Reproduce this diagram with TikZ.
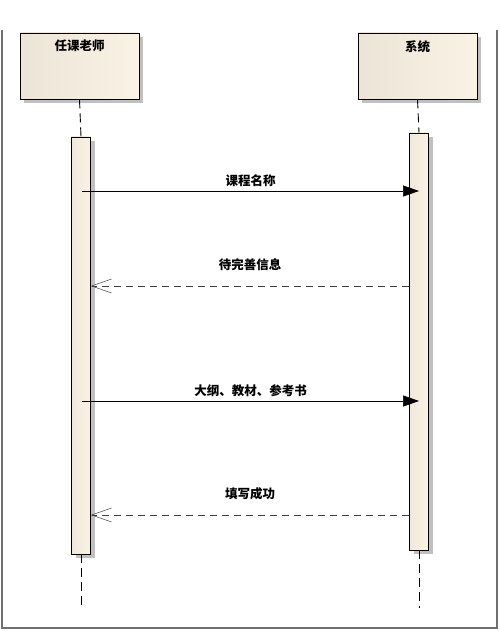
\documentclass[tikz,border=0pt]{standalone}
\usepackage{fontspec}
\newfontfamily\cjk{Noto Sans CJK SC}
\usetikzlibrary{positioning,arrows.meta,shadows}
\definecolor{SeqFrame}{RGB}{112,112,112}
\definecolor{SeqLeft}{RGB}{236,228,214}
\definecolor{SeqRight}{RGB}{250,242,228}
\definecolor{SeqShadow}{RGB}{192,192,192}
\tikzset{
  seq actor/.style={
    draw=black,
    line width=0.6pt,
    left color=SeqLeft,
    right color=SeqRight,
    minimum width=119pt,
    minimum height=66pt,
    inner sep=0pt,
    drop shadow={shadow xshift=4pt, shadow yshift=-4pt, fill=SeqShadow, opacity=1}
  },
  seq bar/.style={
    draw=black,
    line width=0.6pt,
    left color=SeqLeft!70!SeqRight,
    right color=SeqRight,
    minimum width=19pt,
    inner sep=0pt,
    drop shadow={shadow xshift=4pt, shadow yshift=-4pt, fill=SeqShadow, opacity=1}
  },
  seq title/.style={font=\cjk\bfseries\fontsize{12.5}{14}\selectfont, text=black},
  seq life/.style={dash pattern=on 9pt off 5pt, line width=0.9pt},
  seq call/.style={-{Triangle[length=16pt,width=11pt]}, line width=0.7pt},
  seq reply/.style={-{Straight Barb[length=20pt,width=14pt,line width=0.5pt]}, dash pattern=on 7pt off 5pt, line width=0.7pt, black!75},
  seq label/.style={font=\cjk\bfseries\fontsize{12.5}{14}\selectfont, text=black, anchor=south}
}
\begin{document}
\begin{tikzpicture}[x=1pt,y=-1pt]
\useasboundingbox (0,0) rectangle (499,631);
% frame
\draw[SeqFrame, line width=1.4pt] (2,30) -- (2,628) -- (497,628) -- (497,30);
% actors
\node[seq actor] (teacher) at (79.5,66) {};
\node[seq title, below=4pt of teacher.north] {任课老师};
\node[seq actor] (system) at (417.5,66) {};
\node[seq title, below=4pt of system.north] {系统};
% activations
\node[seq bar, minimum height=417pt] (tbar) at (81,345.5) {};
\node[seq bar, minimum height=417pt] (sbar) at (419,341.5) {};
\coordinate (tend) at (81,608);
\coordinate (send) at (419,608);
\draw[seq life] (teacher.south) -- (tbar.north);
\draw[seq life] (system.south) -- (sbar.north);
\draw[seq life] (tbar.south) -- (tend);
\draw[seq life] (sbar.south) -- (send);
% messages
\coordinate (m1a) at (82,191);
\coordinate (m1b) at (sbar.center |- m1a);
\coordinate (m2a) at (sbar.west |- 0,286);
\coordinate (m2b) at (tbar.east |- m2a);
\coordinate (m3a) at (82,401);
\coordinate (m3b) at (sbar.center |- m3a);
\coordinate (m4a) at (sbar.west |- 0,515);
\coordinate (m4b) at (tbar.east |- m4a);
\draw[seq call] (m1a) -- node[seq label, above=1pt] {课程名称} (m1b);
\draw[seq reply] (m2a) -- node[seq label, above=12pt] {待完善信息} (m2b);
\draw[seq call] (m3a) -- node[seq label, above=1pt] {大纲、教材、参考书} (m3b);
\draw[seq reply] (m4a) -- node[seq label, above=11pt] {填写成功} (m4b);
\end{tikzpicture}
\end{document}
